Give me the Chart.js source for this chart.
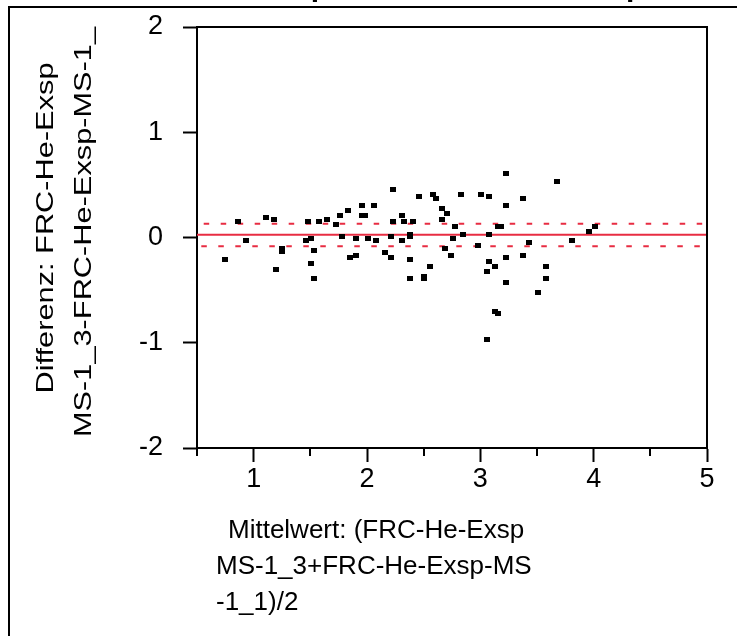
<!DOCTYPE html>
<html><head><meta charset="utf-8">
<script src="https://cdn.jsdelivr.net/npm/chart.js@4/dist/chart.umd.min.js"></script>
<style>html,body{margin:0;padding:0;background:#fff;overflow:hidden}#wrap{width:737px;height:636px;position:relative}</style>
</head><body><div id="wrap"><canvas id="c" width="737" height="636"></canvas></div>
<script>
// ---- data (Bland-Altman plot) ----
const meanValues = [
  0.86,1.11,1.18,0.93,0.75,1.25,1.25,1.20,1.48,1.58,1.65,1.73,1.76,1.46,1.51,1.53,1.51,1.53,
  1.83,1.96,1.96,1.98,2.06,2.23,2.46,2.58,2.61,2.83,2.31,2.23,2.33,2.41,2.66,2.71,2.66,2.78,
  2.38,2.38,2.21,1.78,1.90,2.01,2.08,2.31,2.76,2.85,2.69,2.74,1.85,1.90,2.16,2.21,2.38,2.56,
  2.38,2.50,2.50,
  3.23,3.68,3.01,3.08,3.38,3.23,3.16,3.18,3.08,3.96,4.01,3.81,2.98,3.43,3.23,3.38,3.08,3.13,
  3.06,3.58,3.58,3.23,3.51,3.13,3.16,3.06
];
const diffValues = [
  0.15,0.19,0.17,-0.03,-0.21,-0.10,-0.13,-0.30,0.15,0.15,0.17,0.12,0.21,-0.03,-0.01,-0.12,-0.25,-0.39,
  0.26,0.30,0.21,0.21,0.30,0.46,0.39,0.41,0.37,0.41,0.21,0.15,0.15,0.15,0.28,0.23,0.17,0.10,
  0.03,0.01,0.01,0.01,-0.01,-0.01,-0.03,-0.03,-0.01,0.03,-0.10,-0.17,-0.19,-0.17,-0.14,-0.19,-0.21,-0.28,
  -0.39,-0.37,-0.39,
  0.61,0.53,0.41,0.39,0.37,0.30,0.10,0.10,0.03,0.06,0.10,-0.03,-0.08,-0.05,-0.19,-0.17,-0.23,-0.28,
  -0.32,-0.28,-0.39,-0.43,-0.52,-0.70,-0.72,-0.97
];
const meanDifference = 0.025;
const upperLimit = 0.13;
const lowerLimit = -0.083;
const xRange = [0.5, 5];
const yRange = [-2, 2];
const xMajorTicks = [1, 2, 3, 4, 5];
const xMinorTicks = [0.5, 1.5, 2.5, 3.5, 4.5];
const yTickLabels = ['-2', '-1', '0', '1', '2'];
const yTitleLines = ['Differenz: FRC-He-Exsp', 'MS-1_3-FRC-He-Exsp-MS-1_'];
const xTitleLines = ['Mittelwert: (FRC-He-Exsp', 'MS-1_3+FRC-He-Exsp-MS', '-1_1)/2'];
const chartTitle = 'Differenz: FRC-He-Exsp MS-1_3-FRC-He-Exsp-MS-1_1';

const RED = 'rgb(232,44,66)';
const FONT = '"Liberation Sans", Arial, Helvetica, sans-serif';

const pointsData = meanValues.map((m, i) => ({x: m, y: diffValues[i]}));
const hline = v => [{x: xRange[0], y: v}, {x: xRange[1], y: v}];

const marker = document.createElement('canvas');
marker.width = 6; marker.height = 5;
{ const g = marker.getContext('2d'); g.fillStyle = '#000'; g.fillRect(0, 0, 6, 5); }

const decor = {
  id: 'decor',
  afterDraw(chart) {
    const {ctx, chartArea: a, scales: {x}} = chart;
    ctx.save();
    ctx.strokeStyle = '#000';
    ctx.lineWidth = 2;
    ctx.beginPath();
    ctx.moveTo(a.left, a.top); ctx.lineTo(a.right, a.top); ctx.lineTo(a.right, a.bottom);
    ctx.stroke();
    ctx.beginPath();
    xMinorTicks.forEach(v => { const p = Math.round(x.getPixelForValue(v)); ctx.moveTo(p, a.bottom); ctx.lineTo(p, a.bottom + 8); });
    ctx.stroke();
    ctx.beginPath();
    ctx.moveTo(9, 640); ctx.lineTo(9, 7); ctx.lineTo(745, 7);
    ctx.stroke();
    ctx.fillStyle = '#000';
    ctx.font = 'bold 30px ' + FONT;
    ctx.textAlign = 'left'; ctx.textBaseline = 'alphabetic';
    const pre = ctx.measureText('Differenz: FRC-He-Exs').width;
    const pw = ctx.measureText('p').width;
    ctx.fillText(chartTitle, 320 - pre - pw / 2, -4);
    ctx.font = '24px ' + FONT;
    ctx.textAlign = 'center'; ctx.textBaseline = 'middle';
    const w1 = ctx.measureText(yTitleLines[0]).width;
    const sx = 331 / w1;
    [[46, 228], [84, 232]].forEach((p, i) => {
      ctx.save(); ctx.translate(p[0], p[1]); ctx.rotate(-Math.PI / 2); ctx.scale(sx, 1);
      ctx.fillText(yTitleLines[i], 0, 0); ctx.restore();
    });
    ctx.font = '26px ' + FONT;
    ctx.textAlign = 'left'; ctx.textBaseline = 'alphabetic';
    [[228, 538], [216, 574], [216, 610]].forEach((p, i) => ctx.fillText(xTitleLines[i], p[0], p[1]));
    ctx.restore();
  }
};

new Chart(document.getElementById('c'), {
  type: 'scatter',
  data: {
    datasets: [
      {data: pointsData, pointStyle: marker, pointRadius: 3, showLine: false},
      {data: hline(meanDifference), showLine: true, borderColor: RED, borderWidth: 2, pointRadius: 0},
      {data: hline(upperLimit), showLine: true, borderColor: RED, borderWidth: 2, pointRadius: 0, borderDash: [5.5, 11.5], borderDashOffset: 10.3},
      {data: hline(lowerLimit), showLine: true, borderColor: RED, borderWidth: 2, pointRadius: 0, borderDash: [5.5, 11.5], borderDashOffset: 12.7}
    ]
  },
  options: {
    responsive: false, animation: false, devicePixelRatio: 1,
    layout: {padding: {left: 0, top: 27, right: 30, bottom: 0}},
    plugins: {legend: {display: false}, tooltip: {enabled: false}},
    scales: {
      x: {
        type: 'linear', min: xRange[0], max: xRange[1],
        afterFit: s => { s.height = 188; s.paddingLeft = 0; s.paddingRight = 0; },
        afterBuildTicks: s => { s.ticks = xMinorTicks.concat(xMajorTicks).sort((p, q) => p - q).map(v => ({value: v})); },
        ticks: {
          autoSkip: false, maxRotation: 0, padding: 1, color: '#000',
          font: {family: FONT, size: 27},
          callback: v => xMajorTicks.includes(v) ? String(v) : ''
        },
        grid: {
          drawOnChartArea: false, tickLength: 14, tickWidth: 2,
          tickColor: c => (c.tick && xMajorTicks.includes(c.tick.value)) ? '#000' : 'rgba(0,0,0,0)'
        },
        border: {display: true, color: '#000', width: 2}
      },
      y: {
        type: 'linear', min: yRange[0], max: yRange[1],
        afterFit: s => { s.width = 197; s.paddingTop = 0; s.paddingBottom = 0; },
        ticks: {
          stepSize: 1, padding: 20, color: '#000',
          font: {family: FONT, size: 27},
          callback: v => yTickLabels[v - yRange[0]]
        },
        grid: {drawOnChartArea: false, tickLength: 14, tickWidth: 2, tickColor: '#000'},
        border: {display: true, color: '#000', width: 2}
      }
    }
  },
  plugins: [decor]
});
</script>
</body></html>
